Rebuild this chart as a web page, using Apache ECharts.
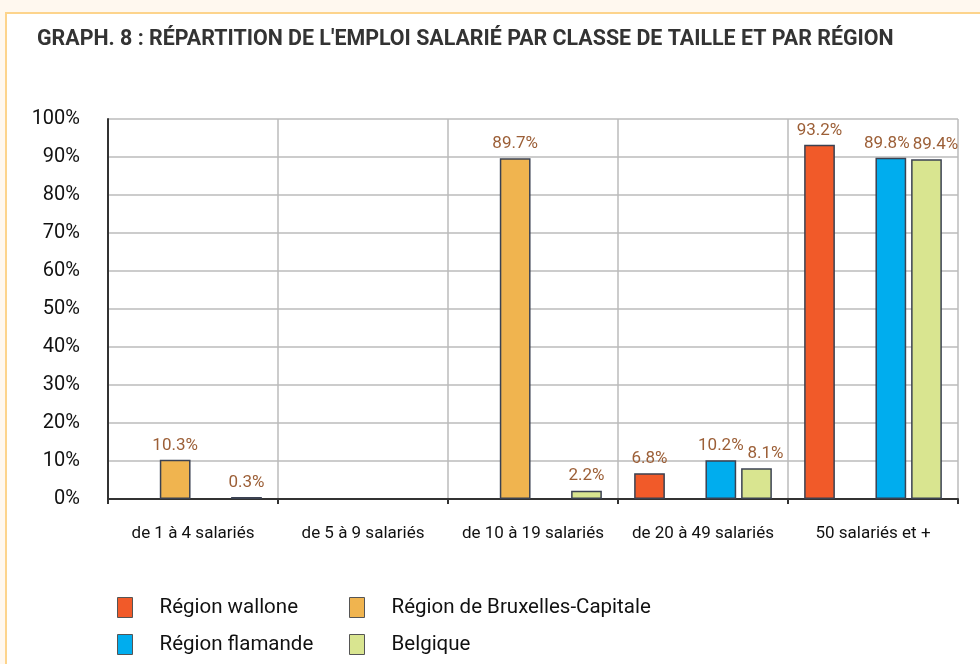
<!DOCTYPE html>
<html>
<head>
<meta charset="utf-8">
<script src="https://cdn.jsdelivr.net/npm/echarts@6/dist/echarts.min.js"></script>
<style>
  html, body { margin: 0; padding: 0; background: #fff8ef; }
  #box {
    position: absolute; left: 5px; top: 12px; width: 975px; height: 652px;
    background: #fff; border-left: 2px solid #fdd48c; border-top: 2px solid #fdd48c;
  }
  #chart { position: absolute; left: 0; top: 0; width: 980px; height: 664px; }
</style>
</head>
<body>
<div id="box"></div>
<div id="chart"></div>
<script>
const categories = ['de 1 à 4 salariés', 'de 5 à 9 salariés', 'de 10 à 19 salariés', 'de 20 à 49 salariés', '50 salariés et +']
const seriesNames = ['Région wallone', 'Région de Bruxelles-Capitale', 'Région flamande', 'Belgique']
const wallone = ['-', '-', '-', 6.8, 93.2]
const bruxelles = [10.3, '-', 89.7, '-', '-']
const flamande = ['-', '-', '-', 10.2, 89.8]
const belgique = [0.3, '-', 2.2, 8.1, 89.4]
const colors = ['#f15a29', '#f0b44f', '#00adee', '#d9e590']

const font = 'Roboto'

const myChart = echarts.init(document.getElementById('chart'))

function makeSeries(name, data, color, nudge){
    return {
        name: name,
        type: 'bar',
        data: data,
        barGap: '16%',
        barCategoryGap: '19%',
        barMinHeight: 2,
        itemStyle: { color: color, borderColor: '#3b4252', borderWidth: 1.5 },
        // push crowded labels apart a little, like the original
        labelLayout: (p) => ({ dx: nudge ? (nudge[p.dataIndex] || 0) : 0 }),
        label: {
            show: true,
            position: 'top',
            distance: 6,
            color: '#9c5f37',
            fontFamily: font,
            fontSize: 17,
            formatter: (p) => p.value.toFixed(1) + '%'
        }
    }
}

// one legend per entry so the two columns line up
const legendPos = [[112, 592], [344, 592], [112, 629], [344, 629]]
const legends = seriesNames.map((n, i) => ({
    data: [n],
    left: legendPos[i][0],
    top: legendPos[i][1],
    itemWidth: 15,
    itemHeight: 20,
    itemGap: 0,
    icon: 'rect',
    itemStyle: { borderColor: '#555', borderWidth: 1 },
    textStyle: { fontFamily: font, fontSize: 20.5, color: '#111', padding: [0, 0, 0, 22] }
}))

let option = {
    animation: false,
    color: colors,
    title: {
        text: "GRAPH. 8 : RÉPARTITION DE L'EMPLOI SALARIÉ PAR CLASSE DE TAILLE ET PAR RÉGION",
        left: 32,
        top: 24,
        textStyle: { fontFamily: font, fontWeight: 'bold', fontSize: 21.4, color: '#333' }
    },
    legend: legends,
    grid: { left: 108, right: 22, top: 119, bottom: 165 },
    xAxis: {
        type: 'category',
        data: categories,
        axisLine: { lineStyle: { color: '#333', width: 2 } },
        axisTick: { show: true, length: 5, lineStyle: { color: '#333', width: 2 } },
        axisLabel: { fontFamily: font, fontSize: 17, color: '#111', margin: 26, interval: 0 },
        splitLine: { show: true, lineStyle: { color: '#bbb', width: 1.5 } }
    },
    yAxis: {
        type: 'value',
        min: 0,
        max: 100,
        interval: 10,
        axisLine: { show: true, lineStyle: { color: '#333', width: 2 } },
        axisTick: { show: false },
        axisLabel: { fontFamily: font, fontSize: 20, color: '#111', margin: 28, formatter: '{value}%' },
        splitLine: { lineStyle: { color: '#bbb', width: 1.5 } }
    },
    series: [
        makeSeries(seriesNames[0], wallone, colors[0]),
        makeSeries(seriesNames[1], bruxelles, colors[1]),
        makeSeries(seriesNames[2], flamande, colors[2], { 4: -4 }),
        makeSeries(seriesNames[3], belgique, colors[3], { 3: 9, 4: 9 })
    ]
}

option && myChart.setOption(option)
</script>
</body>
</html>
